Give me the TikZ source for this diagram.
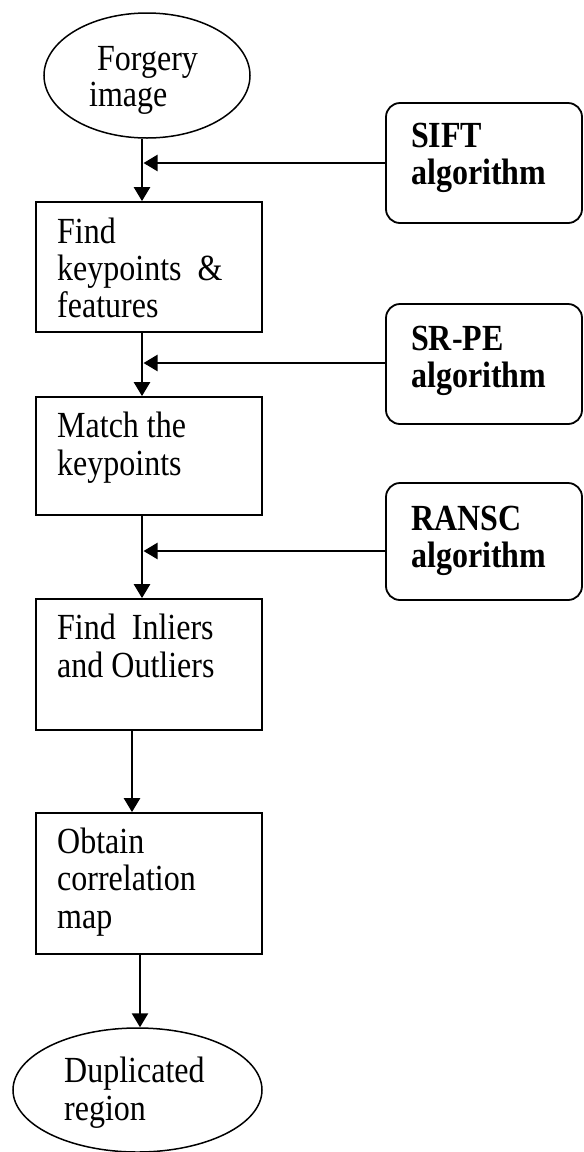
\documentclass[tikz,border=0pt]{standalone}
\usepackage{fontspec}
\usepackage{graphicx}
\setmainfont{Liberation Serif}
\usetikzlibrary{arrows.meta,shapes.geometric}
% text is set slightly taller than wide
\newcommand{\tallt}[1]{\scalebox{1}[1.15]{#1}}
\begin{document}
\begin{tikzpicture}[x=1pt,y=-1pt,
  txt/.style={anchor=base west,inner sep=0pt,font=\fontsize{32}{37}\selectfont},
  bold/.style={txt,font=\fontsize{32}{37}\selectfont\bfseries},
  stepbox/.style={draw,line width=1.8pt,rectangle,minimum width=226pt,inner sep=0pt},
  algbox/.style={draw,line width=1.8pt,rectangle,rounded corners=14pt,minimum width=196pt,inner sep=0pt},
  term/.style={draw,line width=1.5pt,ellipse,inner sep=0pt},
  flow/.style={line width=2.5pt,-{Triangle[length=14pt,width=16pt]}},
  feed/.style={line width=2.3pt,-{Triangle[length=14pt,width=16pt]}}]
\useasboundingbox (0,0) rectangle (584,1152);

% terminals
\node[term,minimum width=206pt,minimum height=125pt] (forg) at (147,75.5) {};
\node[term,minimum width=249pt,minimum height=124pt] (dup) at (137.5,1090) {};

% process steps
\node[stepbox,minimum height=130pt] (b1) at (149,267) {};
\node[stepbox,minimum height=118pt] (b2) at (149,456) {};
\node[stepbox,minimum height=131pt] (b3) at (149,664.5) {};
\node[stepbox,minimum height=141pt] (b4) at (149,883.5) {};

% algorithms
\node[algbox,minimum height=120pt] (sift) at (484,163) {};
\node[algbox,minimum height=120pt] (srpe) at (484,364) {};
\node[algbox,minimum height=117pt] (ransc) at (484,541.5) {};

% labels
\node[txt] (t1a) at (97,70) {\tallt{Forgery}};
\node[txt] (t1b) at (89,106) {\tallt{image}};
\node[txt] (t2a) at (57,243) {\tallt{Find}};
\node[txt] (t2b) at (57,280) {\tallt{keypoints\ \ \&}};
\node[txt] (t2c) at (57,317) {\tallt{features}};
\node[txt] (t3a) at (57,437) {\tallt{Match the}};
\node[txt] (t3b) at (57,475) {\tallt{keypoints}};
\node[txt] (t4a) at (57,639) {\tallt{Find\ \ Inliers}};
\node[txt] (t4b) at (57,677) {\tallt{and Outliers}};
\node[txt] (t5a) at (57,853) {\tallt{Obtain}};
\node[txt] (t5b) at (57,890) {\tallt{correlation}};
\node[txt] (t5c) at (57,928) {\tallt{map}};
\node[txt] (t6a) at (64,1082) {\tallt{Duplicated}};
\node[txt] (t6b) at (64,1120) {\tallt{region}};
\node[bold] (s1a) at (411,147) {\tallt{SIFT}};
\node[bold] (s1b) at (411,184) {\tallt{algorithm}};
\node[bold] (s2a) at (411,350) {\tallt{SR-PE}};
\node[bold] (s2b) at (411,387) {\tallt{algorithm}};
\node[bold] (s3a) at (411,530) {\tallt{RANSC}};
\node[bold] (s3b) at (411,567) {\tallt{algorithm}};

% main flow axes
\coordinate (ax) at (142,0);
\coordinate (bx) at (132,0);
\coordinate (cx) at (140,0);
\coordinate (j1) at (143.5,163);
\coordinate (j2) at (143.5,363);
\coordinate (j3) at (143.5,551);

\draw[flow] (forg.south -| ax) -- (b1.north -| ax);
\draw[flow] (b1.south -| ax) -- (b2.north -| ax);
\draw[flow] (b2.south -| ax) -- (b3.north -| ax);
\draw[flow] (b3.south -| bx) -- (b4.north -| bx);
\draw[flow] (b4.south -| cx) -- (dup.north -| cx);

% algorithm inputs
\draw[feed] (j1 -| sift.west) -- (j1);
\draw[feed] (j2 -| srpe.west) -- (j2);
\draw[feed] (j3 -| ransc.west) -- (j3);
\end{tikzpicture}
\end{document}
